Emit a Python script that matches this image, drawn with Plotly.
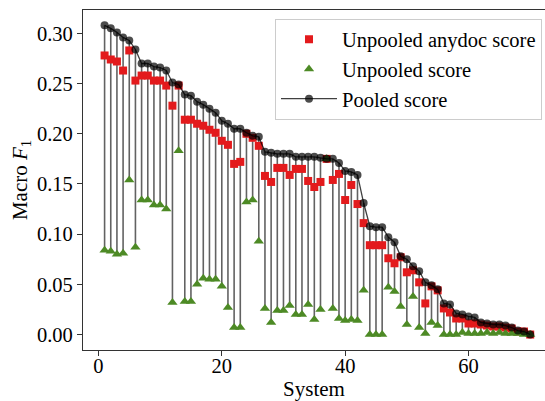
import numpy as np
import plotly.graph_objects as go

systems = list(range(1, 71))

pooled = [0.308, 0.305, 0.301, 0.296, 0.293, 0.284, 0.270, 0.270, 0.267, 0.266,
          0.263, 0.251, 0.249, 0.239, 0.238, 0.232, 0.229, 0.225, 0.221, 0.213,
          0.210, 0.205, 0.205, 0.201, 0.198, 0.197, 0.182, 0.181, 0.180, 0.180,
          0.180, 0.177, 0.177, 0.177, 0.177, 0.176, 0.175, 0.175, 0.171, 0.163,
          0.162, 0.159, 0.131, 0.108, 0.107, 0.107, 0.097, 0.092, 0.078, 0.075,
          0.068, 0.063, 0.052, 0.049, 0.045, 0.031, 0.030, 0.021, 0.020, 0.018,
          0.017, 0.012, 0.011, 0.010, 0.010, 0.009, 0.007, 0.004, 0.003, 0.000]

anydoc = [0.278, 0.274, 0.272, 0.263, 0.283, 0.253, 0.258, 0.258, 0.253, 0.253,
          0.248, 0.228, 0.248, 0.214, 0.214, 0.210, 0.208, 0.204, 0.201, 0.193,
          0.189, 0.170, 0.172, 0.200, 0.196, 0.188, 0.158, 0.152, 0.166, 0.166,
          0.159, 0.165, 0.165, 0.153, 0.147, 0.152, 0.175, 0.154, 0.160, 0.134,
          0.149, 0.130, 0.111, 0.089, 0.089, 0.089, 0.076, 0.071, 0.077, 0.062,
          0.064, 0.052, 0.031, 0.048, 0.044, 0.026, 0.022, 0.016, 0.016, 0.011,
          0.011, 0.010, 0.009, 0.008, 0.008, 0.007, 0.006, 0.003, 0.003, 0.000]

unpooled = [0.084, 0.083, 0.080, 0.081, 0.154, 0.087, 0.134, 0.134, 0.129, 0.129,
            0.125, 0.032, 0.183, 0.033, 0.033, 0.050, 0.056, 0.055, 0.055, 0.048,
            0.027, 0.007, 0.007, 0.132, 0.134, 0.093, 0.026, 0.012, 0.024, 0.024,
            0.029, 0.020, 0.020, 0.030, 0.015, 0.025, 0.175, 0.026, 0.016, 0.014,
            0.015, 0.014, 0.044, 0.000, 0.000, 0.000, 0.047, 0.043, 0.028, 0.010,
            0.038, 0.007, 0.001, 0.012, 0.009, 0.000, 0.000, 0.000, 0.002, 0.001,
            0.001, 0.001, 0.002, 0.001, 0.002, 0.001, 0.001, 0.001, 0.000, 0.000]

x_ticks = [0, 20, 40, 60]
y_ticks = [0.00, 0.05, 0.10, 0.15, 0.20, 0.25, 0.30]

p = np.array(pooled)
lo = np.minimum(np.array(anydoc), np.array(unpooled))
minus = np.clip(p - lo, 0, None)

FONT = "Liberation Serif"

fig = go.Figure()

# vertical range lines (error bars) drawn first, beneath markers
fig.add_trace(go.Scatter(
    x=systems, y=pooled, mode="markers",
    marker=dict(size=1, color="rgba(0,0,0,0)"),
    error_y=dict(type="data", symmetric=False, array=[0]*len(pooled),
                 arrayminus=minus.tolist(), width=0, thickness=1.6,
                 color="rgba(70,70,70,0.85)"),
    showlegend=False, hoverinfo="skip"))

fig.add_trace(go.Scatter(
    x=systems, y=anydoc, mode="markers", name="Unpooled anydoc score",
    marker=dict(symbol="square", size=8, color="#e31a1c", line=dict(width=0))))

fig.add_trace(go.Scatter(
    x=systems, y=unpooled, mode="markers", name="Unpooled score",
    marker=dict(symbol="triangle-up", size=9, color="#4d8a25", line=dict(width=0))))

fig.add_trace(go.Scatter(
    x=systems, y=pooled, mode="lines+markers", name="Pooled score",
    line=dict(color="rgba(0,0,0,0.75)", width=1.3),
    marker=dict(symbol="circle", size=8, color="rgba(0,0,0,0.7)", line=dict(width=0))))

fig.update_layout(
    width=545, height=401,
    margin=dict(l=83, r=0, t=10, b=51),
    paper_bgcolor="white", plot_bgcolor="white",
    font=dict(family=FONT, size=20, color="black"),
    legend=dict(x=0.9935, y=0.975, xanchor="right", yanchor="top",
                bgcolor="rgba(255,255,255,0.85)", bordercolor="#cccccc", borderwidth=1,
                font=dict(family=FONT, size=20.5), tracegroupgap=0, itemwidth=56),
    xaxis=dict(range=[-2.5, 72.4], tickvals=x_ticks, ticktext=[str(t) for t in x_ticks],
               showgrid=False, zeroline=False, showline=True, linecolor="#333333",
               linewidth=1.2, mirror=True, ticks="outside", ticklen=5, tickwidth=1.2,
               tickcolor="#333333", tickfont=dict(family=FONT, size=20.5),
               ticklabelstandoff=-8,
               title=dict(text="System", font=dict(family=FONT, size=21), standoff=0)),
    yaxis=dict(range=[-0.0154, 0.3233], tickvals=y_ticks,
               ticktext=[f"{t:.2f}" for t in y_ticks],
               showgrid=False, zeroline=False, showline=True, linecolor="#333333",
               linewidth=1.2, mirror=False, ticks="outside", ticklen=5, tickwidth=1.2,
               tickcolor="#333333", tickfont=dict(family=FONT, size=20.5),
               title=dict(text="Macro <i>F</i><sub>1</sub>", font=dict(family=FONT, size=21),
                          standoff=3)),
)

fig.write_html("out.html")
